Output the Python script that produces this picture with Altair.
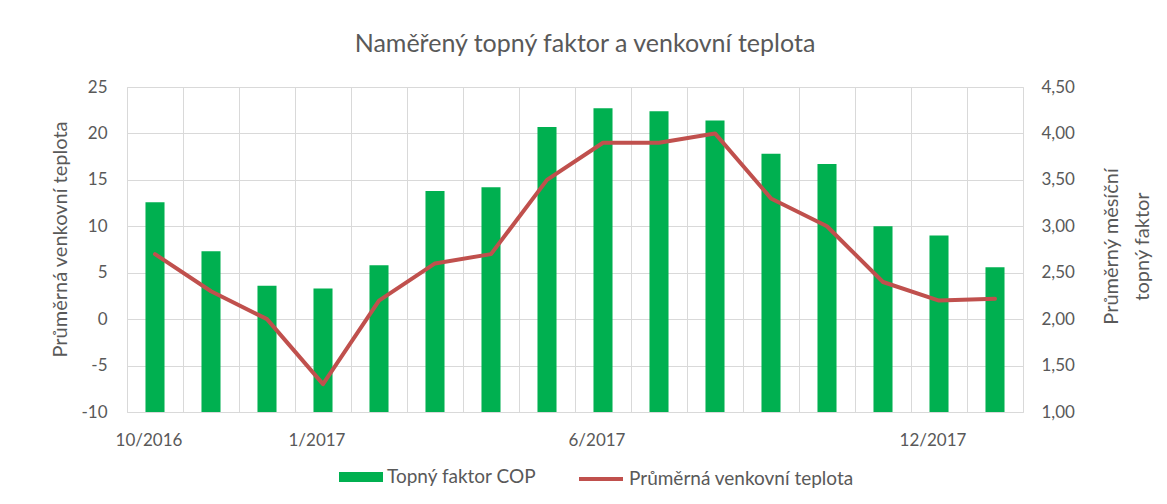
import altair as alt
import pandas as pd

months = ["10/2016", "11/2016", "12/2016", "1/2017", "2/2017", "3/2017", "4/2017", "5/2017",
          "6/2017", "7/2017", "8/2017", "9/2017", "10/2017", "11/2017", "12/2017", "1/2018"]
cop = [3.26, 2.73, 2.36, 2.33, 2.58, 3.38, 3.42, 4.07, 4.27, 4.24, 4.14, 3.78, 3.67, 3.00, 2.90, 2.56]
temp = [7.0, 3.0, 0.0, -7.0, 2.0, 6.0, 7.0, 15.0, 19.0, 19.0, 20.0, 13.0, 10.0, 4.0, 2.0, 2.2]
shown_labels = ["10/2016", "1/2017", "6/2017", "12/2017"]
left_ticks = [-10, -5, 0, 5, 10, 15, 20, 25]
right_ticks = [1.0, 1.5, 2.0, 2.5, 3.0, 3.5, 4.0, 4.5]

series_cop = "Topný faktor COP"
series_temp = "Průměrná venkovní teplota"

df = pd.DataFrame({"month": months, "cop": cop, "temp": temp,
                   "s_cop": series_cop, "s_temp": series_temp})

FONT = "Lato"
GRAY = "#595959"
GRID = "#D9D9D9"
GREEN = "#00B050"
RED = "#C0504D"

label_list = "[" + ",".join("'" + l + "'" for l in shown_labels) + "]"

x_enc = alt.X("month:N", sort=months, title=None,
              scale=alt.Scale(paddingInner=0, paddingOuter=0),
              axis=alt.Axis(bandPosition=0, grid=True, gridColor=GRID, domain=False, ticks=False,
                            labelAngle=0, labelOffset=-6, labelPadding=20,
                            labelExpr="indexof(" + label_list + ", datum.value) >= 0 ? datum.value : ''"))

bars = alt.Chart(df).mark_bar(width={"band": 0.34}).encode(
    x=x_enc,
    y=alt.Y("cop:Q", scale=alt.Scale(domain=[1, 4.5], zero=False, nice=False),
            axis=alt.Axis(orient="right", values=right_ticks, grid=False,
                          domain=False, ticks=False, labelPadding=18,
                          labelExpr="replace(format(datum.value, '.2f'), '.', ',')",
                          title=["Průměrný měsíční", "topný faktor"], titleAngle=270,
                          titlePadding=16, titleLineHeight=31, titleY=159)),
    y2=alt.datum(1.0),
    fill=alt.Fill("s_cop:N", scale=alt.Scale(domain=[series_cop], range=[GREEN]),
                  legend=alt.Legend(title=None, orient="none", legendX=212, legendY=368,
                                    symbolType="M-1,-0.23H1V0.23H-1Z", symbolSize=1936,
                                    symbolStrokeWidth=0, labelFontSize=19, labelOffset=4,
                                    labelLimit=0)),
)

line = alt.Chart(df).mark_line(strokeWidth=4, strokeJoin="round", strokeCap="round").encode(
    x=alt.X("month:N", sort=months),
    y=alt.Y("temp:Q", scale=alt.Scale(domain=[-10, 25], nice=False),
            axis=alt.Axis(orient="left", values=left_ticks, grid=True, gridColor=GRID,
                          domain=False, ticks=False, labelPadding=20,
                          labelExpr="datum.value < 0 ? '-' + abs(datum.value) : '' + datum.value",
                          title="Průměrná venkovní teplota", titlePadding=10, titleY=152)),
    stroke=alt.Stroke("s_temp:N", scale=alt.Scale(domain=[series_temp], range=[RED]),
                      legend=alt.Legend(title=None, orient="none", legendX=450, legendY=368,
                                        symbolType="M-1,0H1", symbolSize=1936,
                                        symbolStrokeWidth=4, labelFontSize=19, labelOffset=4,
                                        labelLimit=0)),
)

chart = alt.layer(bars, line).resolve_scale(y="independent", fill="independent", stroke="independent").properties(
    width=896, height=325,
    padding={"left": 119, "top": 79, "right": 130, "bottom": 80},
    autosize=alt.AutoSizeParams(type="none"),
    title=alt.Title("Naměřený topný faktor a venkovní teplota", anchor="middle", dx=10, offset=21),
).configure(font=FONT).configure_view(stroke=GRID).configure_axis(
    labelFont=FONT, labelFontSize=17, labelColor=GRAY, labelLimit=0,
    titleFont=FONT, titleFontSize=20, titleColor=GRAY, titleFontWeight="normal",
).configure_title(font=FONT, fontSize=25, color=GRAY, fontWeight="normal").configure_legend(
    labelFont=FONT, labelColor=GRAY,
)

chart.save("out.html", embed_options={"renderer": "svg", "actions": False})
